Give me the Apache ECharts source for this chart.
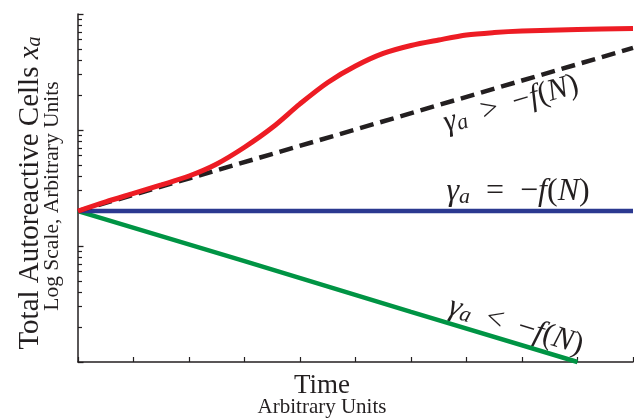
<!DOCTYPE html>
<html><head><meta charset="utf-8">
<script src="https://cdn.jsdelivr.net/npm/echarts@6/dist/echarts.min.js"></script>
<style>html,body{margin:0;padding:0;background:#fff}#c{width:634px;height:419px}</style>
</head><body><div id="c"></div>
<script>
// ---- data (time in arbitrary units, cells in arbitrary units, plotted on a log scale) ----
const redT   = [0, 0.5, 1, 1.5, 2, 2.5, 3, 3.5, 4, 4.5, 5, 5.5, 6, 6.5, 7, 7.5, 8, 9, 10];
const redV   = [20, 24, 28.4, 33.6, 40.1, 51, 71, 105, 168, 257, 356, 457, 535, 597, 659, 692, 713, 735, 750];
const dashT  = [0, 5, 10];
const dashV  = [20, 101, 510];
const blueT  = [0, 10];
const blueV  = [20, 20];
const greenT = [0, 3, 6, 9];
const greenV = [20, 7.4, 2.7, 1];
const yMajorTicks = [1, 10, 100, 1000];
const yMinorTicks = [2,3,4,5,6,7,8,9,20,30,40,50,60,70,80,90,200,300,400,500,600,700,800,900];
const xTitle = 'Time';
const xSub = 'Arbitrary Units';
const yTitle = 'Total Autoreactive Cells ';
const ySub = 'Log Scale, Arbitrary Units';

// log10 scale: the value axis runs in decades
const L = Math.log10;
const zip = (a, b) => a.map((v, i) => [v, L(b[i])]);
const SERIF = 'Liberation Serif';
const INK = '#231f20';

const mathRich = (size) => ({
  i: {fontFamily: SERIF, fontStyle: 'italic', fontSize: size, fill: INK},
  s: {fontFamily: SERIF, fontStyle: 'italic', fontSize: Math.round(size * 0.7), fill: INK, padding: [Math.round(size*0.3), 0, 0, 0]},
  n: {fontFamily: SERIF, fontSize: size, fill: INK}
});
const mathText = (op) => '{i|γ}{s|a}{n|  ' + op + '  −}{i|f}{n|(}{i|N}{n|)}';

const yBase = {
  type: 'value', min: L(yMajorTicks[0]), max: L(yMajorTicks[yMajorTicks.length - 1]),
  axisLabel: {show: false}, splitLine: {show: false}
};

const chart = echarts.init(document.getElementById('c'), null, {renderer: 'canvas'});
chart.setOption({
  animation: false,
  backgroundColor: '#fff',
  grid: {left: 78, right: 1, top: 14, bottom: 57},
  xAxis: {
    type: 'value', min: 0, max: 10, interval: 1,
    axisLine: {show: true, lineStyle: {color: INK, width: 1.5}},
    axisTick: {show: true, inside: true, length: 5, lineStyle: {color: INK, width: 1.2}},
    axisLabel: {show: false}, splitLine: {show: false}
  },
  yAxis: [
    Object.assign({}, yBase, {
      axisLine: {show: true, lineStyle: {color: INK, width: 1.5}},
      axisTick: {show: true, inside: true, length: 5.5, customValues: yMajorTicks.map(L), lineStyle: {color: INK, width: 1.3}},
      axisLabel: {show: false, customValues: yMajorTicks.map(L)}
    }),
    Object.assign({}, yBase, {
      position: 'left',
      axisLine: {show: false},
      axisTick: {show: true, inside: true, length: 4, customValues: yMinorTicks.map(L), lineStyle: {color: INK, width: 1.2}},
      axisLabel: {show: false, customValues: yMinorTicks.map(L)}
    })
  ],
  series: [
    {type: 'line', data: zip(greenT, greenV), symbol: 'none', clip: false,
     lineStyle: {color: '#009444', width: 4.5}},
    {type: 'line', data: zip(blueT, blueV), symbol: 'none',
     lineStyle: {color: '#2b3990', width: 4.5}},
    {type: 'line', data: zip(dashT, dashV), symbol: 'none',
     lineStyle: {color: INK, width: 4.5, type: [14, 7]}},
    {type: 'line', data: zip(redT, redV), symbol: 'none', smooth: 0.3,
     lineStyle: {color: '#ed1c24', width: 5}}
  ],
  graphic: [
    {type: 'text', x: 322, y: 386, style: {text: xTitle, fontFamily: SERIF, fontSize: 27, fill: INK, align: 'center', verticalAlign: 'middle'}},
    {type: 'text', x: 322, y: 407, style: {text: xSub, fontFamily: SERIF, fontSize: 21, fill: INK, align: 'center', verticalAlign: 'middle'}},
    {type: 'text', x: 30, y: 193, rotation: Math.PI / 2,
     style: {text: '{n|' + yTitle + '}{i|x}{s|a}', rich: mathRich(29), fontFamily: SERIF, fontSize: 29, fill: INK, align: 'center', verticalAlign: 'middle'}},
    {type: 'text', x: 52, y: 196, rotation: Math.PI / 2,
     style: {text: ySub, fontFamily: SERIF, fontSize: 21.5, fill: INK, align: 'center', verticalAlign: 'middle'}},
    {type: 'text', x: 511, y: 104, rotation: 0.2857,
     style: {text: mathText('>'), rich: mathRich(31), align: 'center', verticalAlign: 'middle'}},
    {type: 'text', x: 518, y: 192,
     style: {text: mathText('='), rich: mathRich(32), align: 'center', verticalAlign: 'middle'}},
    {type: 'text', x: 516, y: 326, rotation: -0.2939,
     style: {text: mathText('<'), rich: mathRich(31), align: 'center', verticalAlign: 'middle'}}
  ]
});
</script></body></html>
